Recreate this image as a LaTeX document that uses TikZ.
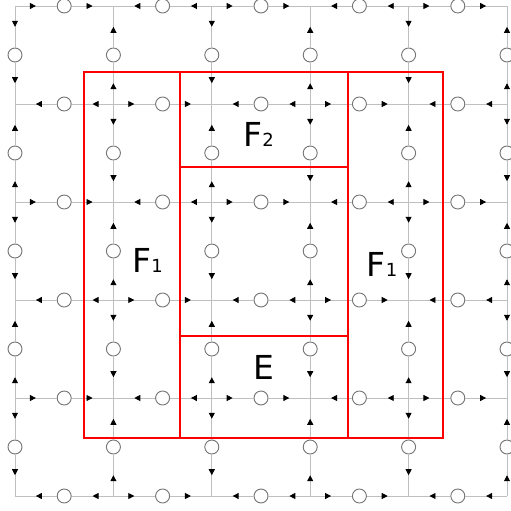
\documentclass[tikz,border=0pt]{standalone}
\usepackage{fontspec}
\setmainfont{DejaVu Sans}
\usetikzlibrary{decorations.markings,arrows.meta}
\tikzset{
  gridline/.style={draw=black!25, line width=0.9pt},
  flow/.style={gridline, postaction={decorate},
    decoration={markings, mark=at position 0.5 with {\arrow[black]{Triangle[length=6pt,width=6pt]}}}},
  midc/.style={circle, draw=black!55, fill=white, line width=0.9pt, minimum size=14pt, inner sep=0pt},
  region/.style={draw=red, line width=1.8pt},
  lab/.style={font=\fontsize{33}{33}\selectfont, inner sep=0pt, anchor=base, text=black}
}
\newcommand{\subdig}[1]{{\fontsize{18}{18}\selectfont #1}}
\begin{document}
\begin{tikzpicture}[x=1pt,y=-1pt]
\useasboundingbox (0,0) rectangle (511,511);
\foreach \i in {0,...,5} \foreach \j in {0,...,5} {
  \coordinate (v-\i-\j) at ({15+98.4*\i},{6+98*\j});
}
% horizontal edges
\foreach \i in {0,...,4} \foreach \j in {0,...,5} {
  \pgfmathtruncatemacro\ni{\i+1}
  \pgfmathtruncatemacro\pp{mod(\i+\j,2)}
  \node[midc] (h-\i-\j) at ({15+98.4*(\i+0.5)},{6+98*\j}) {};
  \ifnum\pp=0
    \draw[flow] (v-\i-\j) -- (h-\i-\j);
    \draw[flow] (h-\i-\j) -- (v-\ni-\j);
  \else
    \draw[flow] (v-\ni-\j) -- (h-\i-\j);
    \draw[flow] (h-\i-\j) -- (v-\i-\j);
  \fi
}
% vertical edges
\foreach \i in {0,...,5} \foreach \j in {0,...,4} {
  \pgfmathtruncatemacro\nj{\j+1}
  \pgfmathtruncatemacro\pp{mod(\i+\j,2)}
  \node[midc] (u-\i-\j) at ({15+98.4*\i},{6+98*(\j+0.5)}) {};
  \ifnum\pp=0
    \draw[flow] (v-\i-\j) -- (u-\i-\j);
    \draw[flow] (u-\i-\j) -- (v-\i-\nj);
  \else
    \draw[flow] (v-\i-\nj) -- (u-\i-\j);
    \draw[flow] (u-\i-\j) -- (v-\i-\j);
  \fi
}
% regions
\draw[region] (84,72) rectangle (443,438);
\draw[region] (180,72) -- (180,438);
\draw[region] (348,72) -- (348,438);
\draw[region] (180,167) -- (348,167);
\draw[region] (180,336) -- (348,336);
% labels
\node[lab] (f2) at (258.5,146) {F\subdig{2}};
\node[lab] (f1a) at (147.5,272) {F\subdig{1}};
\node[lab] (f1b) at (382,276) {F\subdig{1}};
\node[lab] (e) at (264,379) {E};
\end{tikzpicture}
\end{document}
